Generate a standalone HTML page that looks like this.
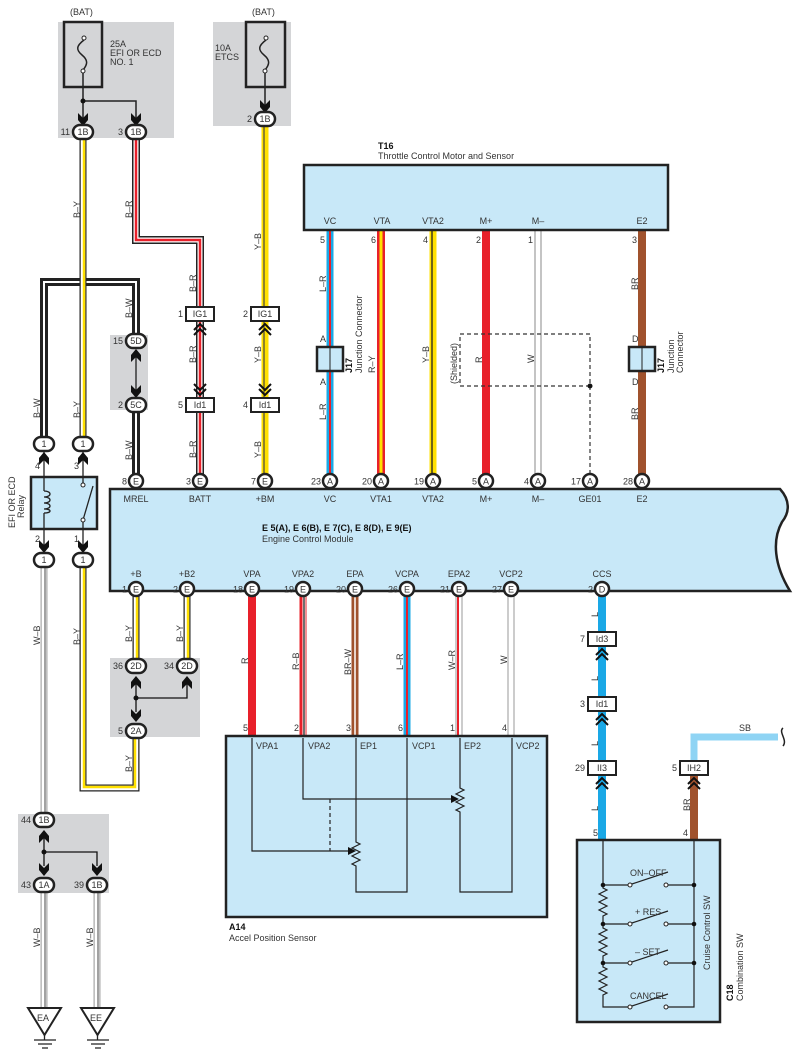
<!DOCTYPE html>
<html><head><meta charset="utf-8"><style>
html,body{margin:0;padding:0;background:#fff}
svg{display:block}
text{font-family:"Liberation Sans",sans-serif;font-size:9px;fill:#333}
.b{font-weight:bold;fill:#111}
.n{fill:none}
</style></head><body>
<svg width="797" height="1062" viewBox="0 0 797 1062" xmlns="http://www.w3.org/2000/svg">
<defs>
<path id="ad" d="M-5,-7 L0,-2 L5,-7 L5,0 L0,6 L-5,0Z" fill="#111"/>
<path id="au" d="M-5,7 L0,2 L5,7 L5,0 L0,-6 L-5,0Z" fill="#111"/>
<g id="cu"><path d="M-6,3 L0,-3 L6,3 M-6,8 L0,2 L6,8" fill="none" stroke="#111" stroke-width="2"/></g>
<g id="cd"><path d="M-6,-3 L0,3 L6,-3 M-6,-8 L0,-2 L6,-8" fill="none" stroke="#111" stroke-width="2"/></g>
</defs>

<g fill="#d4d5d7">
<rect x="58" y="22" width="116" height="116"/>
<rect x="213" y="22" width="78" height="104"/>
<rect x="110" y="335" width="38" height="75"/>
<rect x="110" y="658" width="90" height="79"/>
<rect x="18" y="814" width="91" height="79"/>
</g>

<rect x="64" y="22" width="38" height="65" fill="none" stroke="#222" stroke-width="2.5"/>
<rect x="246" y="22" width="39" height="65" fill="none" stroke="#222" stroke-width="2.5"/>
<g fill="none" stroke="#222" stroke-width="1.5">
<path d="M84,40 C76,46 76,50 82,55 C88,60 88,64 83,70"/>
<path d="M266,40 C258,46 258,50 264,55 C270,60 270,64 265,70"/>
<path d="M83,72 V120 M83,101 H136 V120 M265,72 V108"/>
</g>
<g fill="#fff" stroke="#222" stroke-width="1"><circle cx="84" cy="38" r="2"/><circle cx="83" cy="71" r="2"/><circle cx="266" cy="38" r="2"/><circle cx="265" cy="71" r="2"/></g>
<circle cx="83" cy="101" r="2.5" fill="#111"/>
<use href="#ad" x="83" y="120"/><use href="#ad" x="136" y="120"/><use href="#ad" x="265" y="107"/>
<text x="70" y="15">(BAT)</text><text x="252" y="15">(BAT)</text>
<text x="110" y="47">25A</text><text x="110" y="56">EFI OR ECD</text><text x="110" y="65">NO. 1</text>
<text x="215" y="51">10A</text><text x="215" y="60">ETCS</text>

<g class="n" stroke-linejoin="miter">
<path d="M136,335 V282 H44 V437 M136,410 V475" stroke="#222" stroke-width="8"/>
<path d="M136,335 V282 H44 V437 M136,410 V475" stroke="#fff" stroke-width="2"/>
<path d="M83,139 V437" stroke="#222" stroke-width="7"/><path d="M83,139 V437" stroke="#fff" stroke-width="4.5"/><path d="M84,139 V437" stroke="#ffe000" stroke-width="2.5"/>
<path d="M136,139 V240 H200 V475" stroke="#222" stroke-width="8"/><path d="M136,139 V240 H200 V475" stroke="#fff" stroke-width="5"/><path d="M136,139 V240 H200 V475" stroke="#e8202a" stroke-width="2.5"/>
<path d="M265,126 V475" stroke="#ffe000" stroke-width="7"/><path d="M264,126 V475" stroke="#444" stroke-width="1.2"/>
<path d="M44,566 V814 M44,892 V1008 M97,892 V1008" stroke="#aaa" stroke-width="7"/>
<path d="M44,566 V814 M44,892 V1008 M97,892 V1008" stroke="#fff" stroke-width="4.5"/>
<path d="M45,566 V814 M45,892 V1008 M98,892 V1008" stroke="#444" stroke-width="1"/>
<path d="M83,566 V788 H136 V738 M136,596 V658 M187,596 V658" stroke="#222" stroke-width="7"/>
<path d="M83,566 V788 H136 V738 M136,596 V658 M187,596 V658" stroke="#fff" stroke-width="4.5"/>
<path d="M84,566 V787 H135 V738 M137,596 V658 M188,596 V658" stroke="#ffe000" stroke-width="2.5"/>
<path d="M330,231 V474" stroke="#1aa8e6" stroke-width="7"/><path d="M330,231 V474" stroke="#e8202a" stroke-width="2"/>
<path d="M381,231 V474" stroke="#e8202a" stroke-width="8"/><path d="M381,231 V474" stroke="#ffe000" stroke-width="3"/>
<path d="M433,231 V474" stroke="#ffe000" stroke-width="7"/><path d="M432,231 V474" stroke="#222" stroke-width="1.3"/>
<path d="M486,231 V474" stroke="#e8202a" stroke-width="8"/>
<path d="M538,231 V474" stroke="#888" stroke-width="7"/><path d="M538,231 V474" stroke="#fff" stroke-width="5"/>
<path d="M642,231 V474" stroke="#a0522d" stroke-width="8"/>
<path d="M252,596 V736" stroke="#e8202a" stroke-width="8"/>
<path d="M303,596 V736" stroke="#e8202a" stroke-width="7"/><path d="M304,596 V736" stroke="#fff" stroke-width="3"/><path d="M304,596 V736" stroke="#222" stroke-width="1.3"/>
<path d="M355,596 V736" stroke="#a0522d" stroke-width="7"/><path d="M355,596 V736" stroke="#fff" stroke-width="1.5"/>
<path d="M407,596 V736" stroke="#1aa8e6" stroke-width="7"/><path d="M407,596 V736" stroke="#e8202a" stroke-width="2"/>
<path d="M459,596 V736" stroke="#999" stroke-width="7"/><path d="M459,596 V736" stroke="#fff" stroke-width="5"/><path d="M458,596 V736" stroke="#e8202a" stroke-width="2"/>
<path d="M511,596 V736" stroke="#999" stroke-width="7"/><path d="M511,596 V736" stroke="#fff" stroke-width="5"/>
<path d="M602,596 V840" stroke="#1aa8e6" stroke-width="8"/>
<path d="M694,775 V840" stroke="#a0522d" stroke-width="8"/>
<path d="M694,762 V737 H778" stroke="#8fd4f4" stroke-width="7"/>
</g>
<path d="M783,728 C778,732 788,740 783,746" fill="none" stroke="#222" stroke-width="1.5"/>
<text x="739" y="731">SB</text>

<rect x="460" y="334" width="130" height="52" fill="none" stroke="#333" stroke-width="1.2" stroke-dasharray="4,3"/>
<path d="M590,386 V474" stroke="#333" stroke-width="1.2" stroke-dasharray="4,3"/>
<circle cx="590" cy="386" r="2.5" fill="#111"/>
<text transform="translate(457,384) rotate(-90)">(Shielded)</text>

<rect x="317" y="347" width="26" height="24" fill="#c8e8f8" stroke="#222" stroke-width="2.5"/><line x1="330" y1="347" x2="330" y2="371" stroke="#222"/>
<rect x="629" y="347" width="26" height="24" fill="#c8e8f8" stroke="#222" stroke-width="2.5"/><line x1="642" y1="347" x2="642" y2="371" stroke="#222"/>
<text x="320" y="342">A</text><text x="320" y="385">A</text><text x="632" y="342">D</text><text x="632" y="385">D</text>
<text class="b" transform="translate(352,373) rotate(-90)">J17</text>
<text transform="translate(362,373) rotate(-90)">Junction Connector</text>
<text class="b" transform="translate(664,373) rotate(-90)">J17</text>
<text transform="translate(674,373) rotate(-90)">Junction</text>
<text transform="translate(683,373) rotate(-90)">Connector</text>

<rect x="304" y="165" width="364" height="65" fill="#c8e8f8" stroke="#222" stroke-width="2.5"/>
<text class="b" x="378" y="149">T16</text><text x="378" y="159">Throttle Control Motor and Sensor</text>
<g text-anchor="middle"><text x="330" y="224">VC</text><text x="382" y="224">VTA</text><text x="433" y="224">VTA2</text><text x="486" y="224">M+</text><text x="538" y="224">M–</text><text x="642" y="224">E2</text></g>
<g text-anchor="end"><text x="325" y="243">5</text><text x="376" y="243">6</text><text x="428" y="243">4</text><text x="481" y="243">2</text><text x="533" y="243">1</text><text x="637" y="243">3</text></g>

<g>
<text transform="translate(80,218) rotate(-90)">B–Y</text>
<text transform="translate(132,218) rotate(-90)">B–R</text>
<text transform="translate(196,292) rotate(-90)">B–R</text>
<text transform="translate(196,363) rotate(-90)">B–R</text>
<text transform="translate(261,250) rotate(-90)">Y–B</text>
<text transform="translate(261,363) rotate(-90)">Y–B</text>
<text transform="translate(261,458) rotate(-90)">Y–B</text>
<text transform="translate(196,458) rotate(-90)">B–R</text>
<text transform="translate(132,318) rotate(-90)">B–W</text>
<text transform="translate(132,460) rotate(-90)">B–W</text>
<text transform="translate(40,418) rotate(-90)">B–W</text>
<text transform="translate(80,418) rotate(-90)">B–Y</text>
<text transform="translate(40,645) rotate(-90)">W–B</text>
<text transform="translate(80,645) rotate(-90)">B–Y</text>
<text transform="translate(132,642) rotate(-90)">B–Y</text>
<text transform="translate(183,642) rotate(-90)">B–Y</text>
<text transform="translate(132,772) rotate(-90)">B–Y</text>
<text transform="translate(40,947) rotate(-90)">W–B</text>
<text transform="translate(93,947) rotate(-90)">W–B</text>
<text transform="translate(326,292) rotate(-90)">L–R</text>
<text transform="translate(326,420) rotate(-90)">L–R</text>
<text transform="translate(375,373) rotate(-90)">R–Y</text>
<text transform="translate(429,363) rotate(-90)">Y–B</text>
<text transform="translate(482,363) rotate(-90)">R</text>
<text transform="translate(534,363) rotate(-90)">W</text>
<text transform="translate(638,290) rotate(-90)">BR</text>
<text transform="translate(638,420) rotate(-90)">BR</text>
<text transform="translate(248,664) rotate(-90)">R</text>
<text transform="translate(299,670) rotate(-90)">R–B</text>
<text transform="translate(351,675) rotate(-90)">BR–W</text>
<text transform="translate(403,670) rotate(-90)">L–R</text>
<text transform="translate(455,670) rotate(-90)">W–R</text>
<text transform="translate(507,664) rotate(-90)">W</text>
<text transform="translate(598,617) rotate(-90)">L</text>
<text transform="translate(598,681) rotate(-90)">L</text>
<text transform="translate(598,746) rotate(-90)">L</text>
<text transform="translate(598,811) rotate(-90)">L</text>
<text transform="translate(690,811) rotate(-90)">BR</text>
</g>

<line x1="136" y1="350" x2="136" y2="396" stroke="#111" stroke-width="1.2"/>
<use href="#au" x="136" y="355"/><use href="#ad" x="136" y="392"/>

<g stroke="#222" stroke-width="2" fill="#fff">
<rect x="186" y="307" width="28" height="14"/><rect x="251" y="307" width="28" height="14"/>
<rect x="186" y="398" width="28" height="14"/><rect x="251" y="398" width="28" height="14"/>
<rect x="588" y="632" width="28" height="14"/><rect x="588" y="697" width="28" height="14"/>
<rect x="588" y="761" width="28" height="14"/><rect x="680" y="761" width="28" height="14"/>
</g>
<g text-anchor="middle"><text x="200" y="317">IG1</text><text x="265" y="317">IG1</text><text x="200" y="408">Id1</text><text x="265" y="408">Id1</text>
<text x="602" y="642">Id3</text><text x="602" y="707">Id1</text><text x="602" y="771">II3</text><text x="694" y="771">IH2</text></g>
<g text-anchor="end"><text x="183" y="317">1</text><text x="248" y="317">2</text><text x="183" y="408">5</text><text x="248" y="408">4</text>
<text x="585" y="642">7</text><text x="585" y="707">3</text><text x="585" y="771">29</text><text x="677" y="771">5</text></g>
<use href="#cu" x="200" y="327"/><use href="#cu" x="265" y="327"/><use href="#cd" x="200" y="392"/><use href="#cd" x="265" y="392"/>
<use href="#cu" x="602" y="652"/><use href="#cu" x="602" y="717"/><use href="#cu" x="602" y="781"/><use href="#cu" x="694" y="781"/>

<rect x="31" y="477" width="66" height="52" fill="#c8e8f8" stroke="#222" stroke-width="2.5"/>
<g fill="none" stroke="#222" stroke-width="1.3">
<path d="M44,450 V491 M44,513 V560 M83,450 V483 M83,522 V560"/>
<path d="M44,491 C52,491 52,497 44,497 C52,497 52,503 44,503 C52,503 52,509 44,509 C52,509 52,513 44,513"/>
<path d="M83,520 L93,486"/>
</g>
<g fill="#fff" stroke="#222"><circle cx="83" cy="485" r="2"/><circle cx="83" cy="520" r="2"/></g>
<use href="#au" x="44" y="458"/><use href="#au" x="83" y="458"/><use href="#ad" x="44" y="547"/><use href="#ad" x="83" y="547"/>
<text x="35" y="469">4</text><text x="74" y="469">3</text><text x="35" y="542">2</text><text x="74" y="542">1</text>
<text transform="translate(15,528) rotate(-90)">EFI OR ECD</text><text transform="translate(24,518) rotate(-90)">Relay</text>

<path d="M110,489 H780 C790,500 790,512 782,522 C772,540 774,565 790,591 H110 Z" fill="#c8e8f8" stroke="#222" stroke-width="2.5"/>
<text class="b" x="262" y="531">E 5(A), E 6(B), E 7(C), E 8(D), E 9(E)</text>
<text x="262" y="542">Engine Control Module</text>
<g text-anchor="middle">
<text x="136" y="502">MREL</text><text x="200" y="502">BATT</text><text x="265" y="502">+BM</text><text x="330" y="502">VC</text><text x="381" y="502">VTA1</text><text x="433" y="502">VTA2</text><text x="486" y="502">M+</text><text x="538" y="502">M–</text><text x="590" y="502">GE01</text><text x="642" y="502">E2</text>
<text x="136" y="577">+B</text><text x="187" y="577">+B2</text><text x="252" y="577">VPA</text><text x="303" y="577">VPA2</text><text x="355" y="577">EPA</text><text x="407" y="577">VCPA</text><text x="459" y="577">EPA2</text><text x="511" y="577">VCP2</text><text x="602" y="577">CCS</text>
</g>

<g fill="#fff" stroke="#222" stroke-width="2.5">
<rect x="73" y="125" width="20" height="14" rx="7"/><rect x="126" y="125" width="20" height="14" rx="7"/><rect x="255" y="112" width="20" height="14" rx="7"/>
<rect x="126" y="334" width="20" height="14" rx="7"/><rect x="126" y="398" width="20" height="14" rx="7"/>
<rect x="34" y="437" width="20" height="14" rx="7"/><rect x="73" y="437" width="20" height="14" rx="7"/>
<rect x="34" y="553" width="20" height="14" rx="7"/><rect x="73" y="553" width="20" height="14" rx="7"/>
<rect x="126" y="659" width="20" height="14" rx="7"/><rect x="177" y="659" width="20" height="14" rx="7"/><rect x="126" y="724" width="20" height="14" rx="7"/>
<rect x="34" y="813" width="20" height="14" rx="7"/><rect x="34" y="878" width="20" height="14" rx="7"/><rect x="87" y="878" width="20" height="14" rx="7"/>
</g>
<g text-anchor="middle">
<text x="83" y="135">1B</text><text x="136" y="135">1B</text><text x="265" y="122">1B</text>
<text x="136" y="344">5D</text><text x="136" y="408">5C</text>
<text x="44" y="447">1</text><text x="83" y="447">1</text><text x="44" y="563">1</text><text x="83" y="563">1</text>
<text x="136" y="669">2D</text><text x="187" y="669">2D</text><text x="136" y="734">2A</text>
<text x="44" y="823">1B</text><text x="44" y="888">1A</text><text x="97" y="888">1B</text>
</g>
<g text-anchor="end">
<text x="70" y="135">11</text><text x="123" y="135">3</text><text x="252" y="122">2</text>
<text x="123" y="344">15</text><text x="123" y="408">2</text>
<text x="123" y="669">36</text><text x="174" y="669">34</text><text x="123" y="734">5</text>
<text x="31" y="823">44</text><text x="31" y="888">43</text><text x="84" y="888">39</text>
</g>

<path d="M136,680 V712 M136,698 H187 V680" fill="none" stroke="#111" stroke-width="1.3"/>
<circle cx="136" cy="698" r="2.5" fill="#111"/>
<use href="#au" x="136" y="682"/><use href="#au" x="187" y="682"/><use href="#ad" x="136" y="716"/>
<path d="M44,834 V866 M44,852 H97 V866" fill="none" stroke="#111" stroke-width="1.3"/>
<circle cx="44" cy="852" r="2.5" fill="#111"/>
<use href="#au" x="44" y="836"/><use href="#ad" x="44" y="870"/><use href="#ad" x="97" y="870"/>

<g fill="#fff" stroke="#222" stroke-width="2">
<path d="M28,1008 H61 L44.5,1035 Z"/><path d="M81,1008 H114 L97.5,1035 Z"/>
</g>
<g stroke="#222" stroke-width="1.3"><path d="M34,1040 H56 M38,1044 H52 M42,1048 H48 M87,1040 H109 M91,1044 H105 M95,1048 H101 M44.5,1035 V1040 M97.5,1035 V1040"/></g>
<text x="37" y="1021">EA</text><text x="90" y="1021">EE</text>

<g fill="#fff" stroke="#222" stroke-width="2.5">
<circle cx="136" cy="481" r="7"/><circle cx="200" cy="481" r="7"/><circle cx="265" cy="481" r="7"/><circle cx="330" cy="481" r="7"/><circle cx="381" cy="481" r="7"/><circle cx="433" cy="481" r="7"/><circle cx="486" cy="481" r="7"/><circle cx="538" cy="481" r="7"/><circle cx="590" cy="481" r="7"/><circle cx="642" cy="481" r="7"/>
<circle cx="136" cy="589" r="7"/><circle cx="187" cy="589" r="7"/><circle cx="252" cy="589" r="7"/><circle cx="303" cy="589" r="7"/><circle cx="355" cy="589" r="7"/><circle cx="407" cy="589" r="7"/><circle cx="459" cy="589" r="7"/><circle cx="511" cy="589" r="7"/><circle cx="602" cy="589" r="7"/>
</g>
<g text-anchor="middle">
<text x="136" y="484.5">E</text><text x="200" y="484.5">E</text><text x="265" y="484.5">E</text><text x="330" y="484.5">A</text><text x="381" y="484.5">A</text><text x="433" y="484.5">A</text><text x="486" y="484.5">A</text><text x="538" y="484.5">A</text><text x="590" y="484.5">A</text><text x="642" y="484.5">A</text>
<text x="136" y="592.5">E</text><text x="187" y="592.5">E</text><text x="252" y="592.5">E</text><text x="303" y="592.5">E</text><text x="355" y="592.5">E</text><text x="407" y="592.5">E</text><text x="459" y="592.5">E</text><text x="511" y="592.5">E</text><text x="602" y="592.5">D</text>
</g>
<g text-anchor="end">
<text x="127" y="484.5">8</text><text x="191" y="484.5">3</text><text x="256" y="484.5">7</text><text x="321" y="484.5">23</text><text x="372" y="484.5">20</text><text x="424" y="484.5">19</text><text x="477" y="484.5">5</text><text x="529" y="484.5">4</text><text x="581" y="484.5">17</text><text x="633" y="484.5">28</text>
<text x="127" y="592.5">1</text><text x="178" y="592.5">2</text><text x="243" y="592.5">18</text><text x="294" y="592.5">19</text><text x="346" y="592.5">20</text><text x="398" y="592.5">26</text><text x="450" y="592.5">21</text><text x="502" y="592.5">27</text><text x="593" y="592.5">2</text>
</g>

<rect x="226" y="736" width="321" height="181" fill="#c8e8f8" stroke="#222" stroke-width="2.5"/>
<g text-anchor="end"><text x="248" y="731">5</text><text x="299" y="731">2</text><text x="351" y="731">3</text><text x="403" y="731">6</text><text x="455" y="731">1</text><text x="507" y="731">4</text></g>
<text x="256" y="749">VPA1</text><text x="308" y="749">VPA2</text><text x="360" y="749">EP1</text><text x="412" y="749">VCP1</text><text x="464" y="749">EP2</text><text x="516" y="749">VCP2</text>
<g fill="none" stroke="#222" stroke-width="1.2">
<path d="M252,738 V851 H351"/>
<path d="M303,738 V799 H455"/>
<path d="M356,738 V842 l4,2 -8,4 8,4 -8,4 8,4 -8,4 4,2 V892 H407 V738"/>
<path d="M460,738 V788 l4,2 -8,4 8,4 -8,4 8,4 -8,4 4,2 V892 H512 V738"/>
</g>
<path d="M330,799 V851" stroke="#222" stroke-width="1.2" stroke-dasharray="4,3"/>
<path d="M348,847 L356,851 L348,855Z M451,795 L459,799 L451,803Z" fill="#111"/>
<text class="b" x="229" y="930">A14</text><text x="229" y="941">Accel Position Sensor</text>

<rect x="577" y="840" width="143" height="182" fill="#c8e8f8" stroke="#222" stroke-width="2.5"/>
<text x="593" y="836">5</text><text x="683" y="836">4</text>
<g fill="none" stroke="#222" stroke-width="1.2">
<path d="M603,840 V888 l4,2 -8,4 8,4 -8,4 8,4 -8,4 8,4 -4,2 V924 V928 l4,2 -8,4 8,4 -8,4 8,4 -8,4 8,4 -4,2 V963 V967 l4,2 -8,4 8,4 -8,4 8,4 -8,4 8,4 -4,2 V1007 H628"/>
<path d="M694,840 V1007 H668"/>
<path d="M603,885 H628 M603,924 H628 M603,963 H628 M668,885 H694 M668,924 H694 M668,963 H694"/>
<path d="M632,884 L668,872 M632,923 L668,911 M632,962 L668,950 M632,1006 L668,994"/>
</g>
<g fill="#fff" stroke="#222"><circle cx="630" cy="885" r="2"/><circle cx="666" cy="885" r="2"/><circle cx="630" cy="924" r="2"/><circle cx="666" cy="924" r="2"/><circle cx="630" cy="963" r="2"/><circle cx="666" cy="963" r="2"/><circle cx="630" cy="1007" r="2"/><circle cx="666" cy="1007" r="2"/></g>
<g fill="#111"><circle cx="603" cy="885" r="2.3"/><circle cx="603" cy="924" r="2.3"/><circle cx="603" cy="963" r="2.3"/><circle cx="694" cy="885" r="2.3"/><circle cx="694" cy="924" r="2.3"/><circle cx="694" cy="963" r="2.3"/></g>
<text x="630" y="876">ON–OFF</text><text x="635" y="915">+ RES</text><text x="635" y="955">– SET</text><text x="630" y="999">CANCEL</text>
<text transform="translate(710,970) rotate(-90)">Cruise Control SW</text>
<text class="b" transform="translate(733,1001) rotate(-90)">C18</text>
<text transform="translate(743,1001) rotate(-90)">Combination SW</text>
</svg>
</body></html>
